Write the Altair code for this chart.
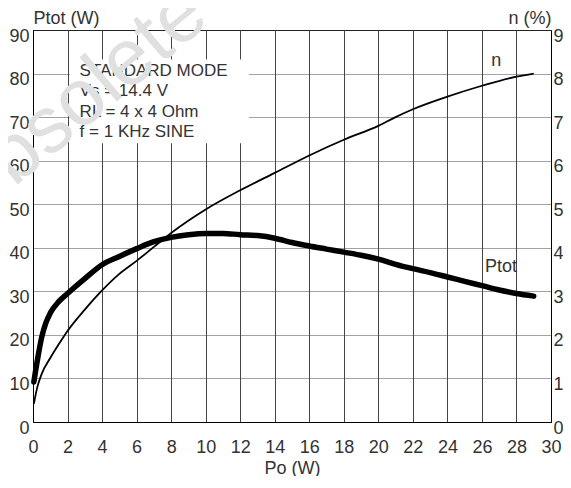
import altair as alt
import pandas as pd

# ---- data ----
po_ptot = [0.05, 0.25, 0.5, 0.75, 1.0, 1.5, 2.0, 3.0, 4.0, 5.0, 6.0, 7.0, 8.0,
           9.0, 10.0, 11.0, 12.0, 13.0, 14.0, 15.0, 16.0, 17.0, 18.0, 19.0, 20.0,
           21.0, 22.0, 23.0, 24.0, 25.0, 26.0, 27.0, 28.0, 29.0]
ptot = [9.2, 14.1, 19.4, 22.8, 25.0, 27.7, 29.5, 32.9, 36.1, 38.0, 39.8, 41.4, 42.4,
        43.0, 43.3, 43.3, 43.0, 42.8, 42.2, 41.2, 40.4, 39.7, 39.0, 38.3, 37.4,
        36.2, 35.2, 34.3, 33.3, 32.3, 31.3, 30.3, 29.5, 28.9]

po_eff = [0.05, 0.25, 0.5, 1.0, 1.5, 2.0, 3.0, 4.0, 5.0, 6.0, 7.0, 8.0, 10.0, 12.0,
          14.0, 16.0, 18.0, 20.0, 21.0, 22.0, 24.0, 26.0, 28.0, 29.0]
eff = [0.42, 0.8, 1.1, 1.47, 1.79, 2.09, 2.58, 3.02, 3.4, 3.7, 4.02, 4.34, 4.88, 5.32,
       5.72, 6.12, 6.48, 6.8, 7.0, 7.18, 7.47, 7.72, 7.93, 8.0]

ann_text = ["STANDARD MODE", "Vs = 14.4 V", "RL = 4 x 4 Ohm", "f = 1 KHz SINE"]
ann_y = [79.5, 74.9, 70.1, 65.5]
ann_x = [2.7, 2.7, 2.7, 2.7]

box_x, box_x2, box_y, box_y2 = [2.13], [12.5], [64.0], [83.2]

ptot_label = {"x": [27.1], "y": [34.5], "t": ["Ptot"]}
eff_label = {"x": [26.83], "y": [8.17], "t": ["n"]}

x_ticks = list(range(0, 31, 2))
left_ticks = list(range(0, 91, 10))
right_ticks = list(range(0, 10))

FONT = "Liberation Sans"
TXT = "#333333"

# ---- tables ----
df_ptot = pd.DataFrame({"po": po_ptot, "ptot": ptot})
df_eff = pd.DataFrame({"po": po_eff, "eff": eff})
df_ann = pd.DataFrame({"x": ann_x, "y": ann_y, "t": ann_text})
df_box = pd.DataFrame({"x": box_x, "x2": box_x2, "y": box_y, "y2": box_y2})
df_pl = pd.DataFrame(ptot_label)
df_el = pd.DataFrame(eff_label)
df_wm = pd.DataFrame({"t": ["Obsolete Product(s)"]})

x_scale = alt.Scale(domain=[0, 30], nice=False, zero=False)
x_axis = alt.Axis(values=x_ticks, grid=True, gridColor="#444444", gridWidth=1,
                  tickSize=0, labelPadding=16, labelFlush=False, labelOverlap=False,
                  title="Po (W)", titleY=37, titleBaseline="top")
yl_scale = alt.Scale(domain=[0, 90], nice=False)
yl_axis = alt.Axis(orient="left", values=left_ticks, grid=True, gridColor="#444444",
                   gridDash=[1, 1], gridWidth=1, tickSize=0, labelPadding=4,
                   labelOffset=6, labelFlush=False, labelOverlap=False,
                   title="Ptot (W)", titleAngle=0, titleX=0, titleY=-7,
                   titleAlign="left", titleBaseline="alphabetic")
yr_scale = alt.Scale(domain=[0, 9], nice=False)
yr_axis = alt.Axis(orient="right", values=right_ticks, grid=False, tickSize=0,
                   labelPadding=2, labelOffset=6, labelFlush=False, labelOverlap=False,
                   title="n (%)", titleAngle=0, titleX=0, titleY=-7,
                   titleAlign="right", titleBaseline="alphabetic")

X = lambda f: alt.X(f, type="quantitative", scale=x_scale, axis=x_axis)
YL = lambda f: alt.Y(f, type="quantitative", scale=yl_scale, axis=yl_axis)
YR = lambda f: alt.Y(f, type="quantitative", scale=yr_scale, axis=yr_axis)

box = alt.Chart(df_box).mark_rect(fill="white").encode(
    x=X("x"), x2="x2", y=YL("y"), y2="y2")

ptot_line = alt.Chart(df_ptot).mark_line(
    color="black", strokeWidth=5.5, strokeCap="round", strokeJoin="round",
    interpolate="monotone").encode(x=X("po"), y=YL("ptot"))

ann = alt.Chart(df_ann).mark_text(
    align="left", baseline="alphabetic", font=FONT, fontSize=17, color=TXT
).encode(x=X("x"), y=YL("y"), text="t:N")

pl = alt.Chart(df_pl).mark_text(
    align="center", baseline="alphabetic", font=FONT, fontSize=18, color=TXT
).encode(x=X("x"), y=YL("y"), text="t:N")

left = alt.layer(box, ptot_line, ann, pl)

eff_line = alt.Chart(df_eff).mark_line(
    color="black", strokeWidth=1.8, interpolate="monotone"
).encode(x=X("po"), y=YR("eff"))

el = alt.Chart(df_el).mark_text(
    align="center", baseline="alphabetic", font=FONT, fontSize=18, color=TXT
).encode(x=X("x"), y=YR("y"), text="t:N")

wm = alt.Chart(df_wm).mark_text(
    align="left", baseline="alphabetic", font=FONT, fontSize=80, color="#e0e0e0",
    angle=320
).encode(x=alt.value(-66.8), y=alt.value(197.8), text="t:N")

right = alt.layer(eff_line, el, wm)

chart = alt.layer(left, right).resolve_scale(y="independent").properties(
    width=518, height=392,
    autosize=alt.AutoSizeParams(type="none"),
    padding={"left": 25, "top": 22, "right": 12, "bottom": 54},
).configure_view(stroke="black", strokeWidth=1).configure_axis(
    domainColor="black", domainWidth=1,
    labelFont=FONT, labelFontSize=18, labelColor=TXT,
    titleFont=FONT, titleFontSize=18, titleColor=TXT, titleFontWeight="normal",
)

chart.save("out.html", embed_options={"renderer": "svg", "actions": False})
